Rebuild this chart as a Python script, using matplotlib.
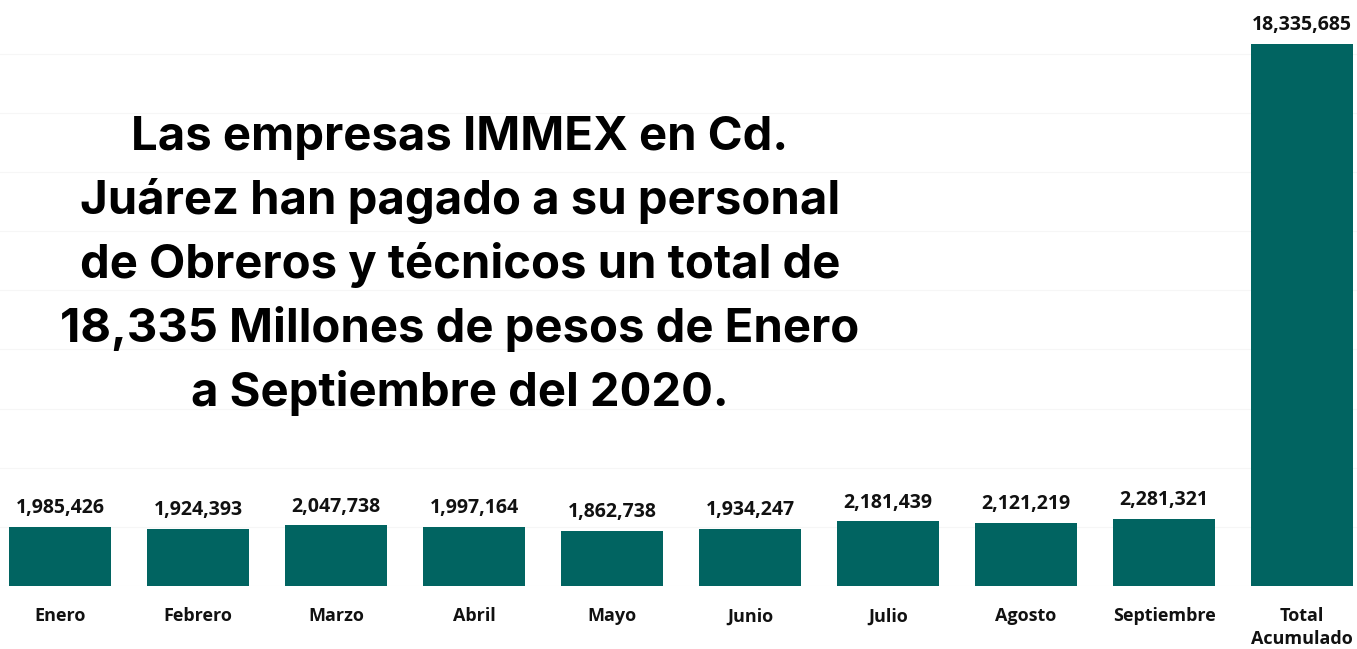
import matplotlib.pyplot as plt

# datos
meses = ["Enero", "Febrero", "Marzo", "Abril", "Mayo", "Junio", "Julio",
         "Agosto", "Septiembre", "Total\nAcumulado"]
pagos = [1985426, 1924393, 2047738, 1997164, 1862738, 1934247, 2181439,
         2121219, 2281321, 18335685]

titulo = ("Las empresas IMMEX en Cd.\n"
          "Juárez han pagado a su personal\n"
          "de Obreros y técnicos un total de\n"
          "18,335 Millones de pesos de Enero\n"
          "a Septiembre del 2020.")

verde = "#016461"

fig = plt.figure(figsize=(13.57, 6.49), dpi=100)
ax = fig.add_axes([0, 63 / 649, 1, 576.6 / 649])

x = range(len(meses))
ax.bar(x, pagos, width=0.74, color=verde, zorder=3)

# etiquetas de valor
for i, v in enumerate(pagos):
    ax.text(i, v + 300000, f"{v:,}", ha="center", va="bottom",
            fontsize=14, fontweight="bold", family="Open Sans", color="#111111")

ax.set_xlim(-0.435, 9.398)
ax.set_ylim(0, 19500000)
ax.set_yticks(range(0, 19500000, 2000000))
ax.grid(axis="y", color="#f6f6f6", linewidth=0.8, zorder=0)
ax.tick_params(left=False, bottom=False, labelleft=False, labelbottom=False)
for s in ax.spines.values():
    s.set_visible(False)

# etiquetas de categoria
for i, m in enumerate(meses):
    ax.text(i, -0.037, m, transform=ax.get_xaxis_transform(), ha="center",
            va="top", fontsize=13, fontweight="bold", family="Open Sans",
            color="#111111", linespacing=1.35)

fig.text(460 / 1357, 1 - 266 / 649, titulo, ha="center", va="center",
         fontsize=34, fontweight="bold", family="Inter", color="black",
         linespacing=1.5)

fig.savefig("out.png", dpi=100, facecolor="white")
